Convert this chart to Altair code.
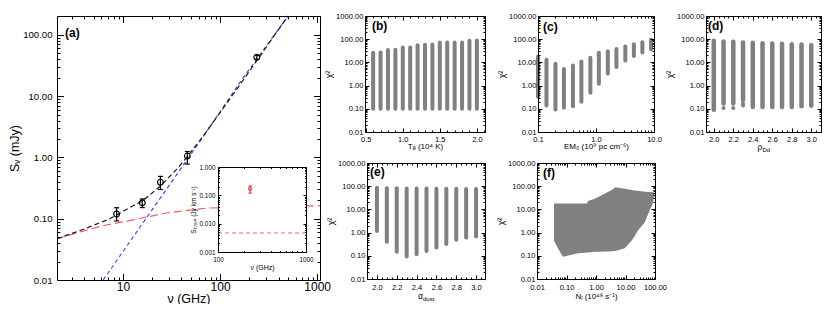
import math
import altair as alt
import pandas as pd

W, H = 814, 296
FONT = "Liberation Sans"
GRAY = "#808080"

# ---------------- data ----------------
# panel (a): SED
obs_nu = [8.6, 15.8, 24.3, 46.0, 239.0]
obs_S = [0.119, 0.182, 0.395, 1.05, 43.0]
obs_lo = [0.092, 0.152, 0.30, 0.78, 40.0]
obs_hi = [0.151, 0.21, 0.49, 1.25, 46.0]
total_nu = [2.09, 4.0, 7.35, 12.0, 16.2, 24.0, 35.7, 45.4, 70.0, 100.0, 160.0, 250.0, 500.0]
total_S = [0.047, 0.068, 0.10, 0.155, 0.20, 0.335, 0.64, 1.0, 2.45, 5.4, 15.3, 42.0, 203.0]
dust_nu = [6.25, 20.0, 60.0, 167.5, 502.0]
dust_S = [0.01, 0.141, 1.69, 18.5, 203.0]
ff_nu = [2.09, 3.5, 5.8, 12.8, 28.0, 72.7, 200.0, 417.0, 1070.0]
ff_S = [0.047, 0.060, 0.075, 0.096, 0.124, 0.149, 0.156, 0.159, 0.163]
# inset
h30_nu = [232.0]
h30_S = [0.17]
h30_lo = [0.12]
h30_hi = [0.215]
lim_nu = [100.0, 1000.0]
lim_S = [0.0047, 0.0047]
# panel (b)
te_x = [0.6, 0.7, 0.8, 0.9, 1.0, 1.1, 1.2, 1.3, 1.4, 1.5, 1.6, 1.7, 1.8, 1.9, 2.0]
te_top = [26, 27, 34, 35, 44, 44, 55, 57, 59, 72, 72, 72, 72, 85, 87]
te_bot = [0.10, 0.10, 0.10, 0.10, 0.10, 0.10, 0.10, 0.10, 0.10, 0.10, 0.10, 0.10, 0.10, 0.10, 0.10]
# panel (c)
em_x = [0.10, 0.14, 0.20, 0.28, 0.40, 0.56, 0.80, 1.12, 1.60, 2.25, 3.2, 4.5, 6.3, 8.9]
em_top = [18, 13, 8.8, 5.2, 7.4, 11, 16, 26, 30, 38, 49, 61, 74, 94]
em_bot = [0.33, 0.14, 0.094, 0.11, 0.13, 0.20, 0.49, 1.2, 3.3, 6.3, 12, 19, 27, 37]
# panel (d)
rho_x = [2.0, 2.1, 2.2, 2.3, 2.4, 2.5, 2.6, 2.7, 2.8, 2.9, 3.0]
rho_top = [85, 80, 77, 72, 70, 67, 65, 63, 61, 59, 55]
rho_bot = [0.09, 0.17, 0.17, 0.24, 0.12, 0.12, 0.12, 0.12, 0.12, 0.13, 0.135]
rho_dot_x = [2.1, 2.2, 2.3, 2.3]
rho_dot_y = [0.107, 0.107, 0.14, 0.165]
# panel (e)
ad_x = [2.0, 2.1, 2.2, 2.3, 2.4, 2.5, 2.6, 2.7, 2.8, 2.9, 3.0]
ad_top = [85, 82, 82, 80, 80, 80, 78, 78, 78, 76, 76]
ad_bot = [1.18, 0.40, 0.15, 0.093, 0.117, 0.16, 0.23, 0.32, 0.49, 0.61, 0.68]
# panel (f)
ni_x = [0.0377, 0.0515, 0.076, 0.245, 0.50, 0.536, 0.90, 1.33, 2.24, 3.3, 4.5, 9.4, 16.0, 20.4, 26.0, 44.6, 61.0, 85.0, 95.0]
ni_top = [18, 18, 18, 18, 18, 22.8, 28.7, 37, 52, 67, 90, 77, 69, 65, 63, 57, 56, 55, 53]
ni_bot = [0.44, 0.206, 0.09, 0.13, 0.14, 0.14, 0.15, 0.15, 0.155, 0.158, 0.16, 0.21, 0.44, 0.7, 1.2, 2.7, 7.2, 19, 38]

# tick labels
a_x_major = [10, 100, 1000]
a_y_major = [0.01, 0.1, 1, 10, 100]
in_x_major = [100, 1000]
in_y_major = [0.001, 0.01, 0.1, 1]
chi_major = [0.01, 0.1, 1, 10, 100, 1000]
b_x_major = [0.5, 1.0, 1.5, 2.0]
c_x_major = [0.1, 1.0, 10.0]
de_x_major = [2.0, 2.2, 2.4, 2.6, 2.8, 3.0]
f_x_major = [0.01, 0.1, 1, 10, 100]


# ---------------- helpers ----------------
def log_ticks(lo, hi):
    out = []
    e = math.floor(math.log10(lo))
    while 10 ** e <= hi * 1.0001:
        for m in range(1, 10):
            v = round(m * 10 ** e, 10)
            if lo * 0.9999 <= v <= hi * 1.0001:
                out.append(v)
        e += 1
    return out


def lin_ticks(lo, hi, step):
    k0 = int(math.ceil(lo / step - 1e-9))
    k1 = int(math.floor(hi / step + 1e-9))
    return [round(k * step, 6) for k in range(k0, k1 + 1)]


LOGTEST = "abs(log(datum.value)/LN10 - round(log(datum.value)/LN10)) < 0.01"


def lintest(step):
    return f"abs(datum.value/{step} - round(datum.value/{step})) < 0.01"


def scales(p):
    xkw = dict(type=p["xtype"], domain=p["xdom"], range=[p["X0"], p["X1"]], nice=False)
    ykw = dict(type=p["ytype"], domain=p["ydom"], range=[p["Y1"], p["Y0"]], nice=False)
    if p["xtype"] == "linear":
        xkw["zero"] = False
    if p["ytype"] == "linear":
        ykw["zero"] = False
    return alt.Scale(**xkw), alt.Scale(**ykw)


def label_channels(p, xs, ys):
    common = dict(ticks=False, tickSize=0, domain=True, domainColor="black", domainWidth=1,
                  labelFont=FONT, labelColor="black", labelFlush=False, labelOverlap=False,
                  grid=False, zindex=1, titleFont=FONT, titleFontWeight="normal", titleColor="black")
    xa = alt.Axis(orient="bottom", offset=p["Y1"] - H, values=p["xmaj"], format=p["xfmt"],
                  labelFontSize=p["xls"], labelPadding=p["xlp"], titleFontSize=p["xts"],
                  titlePadding=p["xtp"], title=p["xtitle"], **common)
    ya = alt.Axis(orient="left", offset=-p["X0"], values=p["ymaj"], format=p["yfmt"],
                  labelFontSize=p["yls"], labelPadding=p["ylp"], titleFontSize=p["yts"],
                  titlePadding=p["ytp"], title=p["ytitle"], **common)
    return alt.X("x:Q", scale=xs, axis=xa), alt.Y("y:Q", scale=ys, axis=ya)


def tick_layers(p, xs, ys):
    d = pd.DataFrame({"x": [p["xdom"][0]], "y": [p["ydom"][0]]})

    def ax(orient, offset, values, test, domain):
        return alt.Axis(orient=orient, offset=offset, values=values, labels=False, ticks=True,
                        tickSize={"condition": {"test": test, "value": p["big"]}, "value": p["small"]},
                        tickColor="black", tickWidth=1, domain=domain, domainColor="black",
                        domainWidth=1, title=None, grid=False, zindex=1)

    tA = alt.Chart(d).mark_point(opacity=0).encode(
        x=alt.X("x:Q", scale=xs, axis=ax("top", -p["Y1"], p["xall"], p["xtest"], False)),
        y=alt.Y("y:Q", scale=ys, axis=ax("right", p["X0"] - W, p["yall"], p["ytest"], False)),
    )
    tB = alt.Chart(d).mark_point(opacity=0).encode(
        x=alt.X("x:Q", scale=xs, axis=ax("bottom", p["Y0"] - H, p["xall"], p["xtest"], True)),
        y=alt.Y("y:Q", scale=ys, axis=ax("left", -p["X1"], p["yall"], p["ytest"], True)),
    )
    return [tA, tB]


def build(p, make_data):
    xs, ys = scales(p)
    X, Y = label_channels(p, xs, ys)
    data = alt.layer(*make_data(X, Y))
    return [data] + tick_layers(p, xs, ys)


def bars(xv, top, bot, X, Y, w=4.0):
    df = pd.DataFrame({"x": xv, "y": bot, "y2": top})
    return alt.Chart(df).mark_rule(color=GRAY, strokeWidth=w, strokeCap="round").encode(
        x=X, y=Y, y2=alt.Y2("y2"))


# ---------------- panels ----------------
def small(X0, X1, Y0, Y1, xtype, xdom, xmaj, xfmt, xtitle, xall, xtest, bottom_row):
    return dict(X0=X0, X1=X1, Y0=Y0, Y1=Y1, xtype=xtype, xdom=xdom, ytype="log",
                ydom=[0.01, 1000], xmaj=xmaj, ymaj=chi_major, xfmt=xfmt, yfmt=".2f",
                xtitle=xtitle, ytitle="χ²", xls=7.5, yls=7.6,
                xlp=4 if bottom_row else 3, ylp=2, xts=8, yts=9,
                xtp=1.5 if bottom_row else 0, ytp=2, xall=xall,
                yall=log_ticks(0.01, 1000), xtest=xtest, ytest=LOGTEST, big=4, small=2)


PA = dict(X0=49, X1=312, Y0=8, Y1=272, xtype="log", xdom=[2.09, 1070], ytype="log",
          ydom=[0.01, 203], xmaj=a_x_major, ymaj=a_y_major, xfmt="d", yfmt=".2f",
          xtitle="ν (GHz)", ytitle="Sᵥ (mJy)", xls=12, yls=9.6, xlp=1, ylp=5, xts=12.5,
          yts=12.5, xtp=0, ytp=1, xall=log_ticks(2.09, 1070), yall=log_ticks(0.01, 203),
          xtest=LOGTEST, ytest=LOGTEST, big=6.5, small=3)
PI = dict(X0=210, X1=298, Y0=159, Y1=244, xtype="log", xdom=[100, 1000], ytype="log",
          ydom=[0.001, 1], xmaj=in_x_major, ymaj=in_y_major, xfmt="d", yfmt=".3f",
          xtitle="ν (GHz)", ytitle="Sₕ₃₀ₐ (Jy km s⁻¹)", xls=6.4, yls=6.4, xlp=4, ylp=3,
          xts=7, yts=6.5, xtp=1, ytp=3, xall=log_ticks(100, 1000), yall=log_ticks(0.001, 1),
          xtest=LOGTEST, ytest=LOGTEST, big=3, small=1.5)
PB = small(357, 477, 8, 124, "linear", [0.49, 2.11], b_x_major, ".1f", "Tₑ (10⁴ K)",
           lin_ticks(0.49, 2.11, 0.1), lintest(0.5), False)
PC = small(530, 646, 8, 124, "log", [0.1, 10], c_x_major, ".1f", "EM₀ (10⁹ pc cm⁻⁶)",
           log_ticks(0.1, 10), LOGTEST, False)
PD = small(698, 813, 8, 124, "linear", [1.92, 3.10], de_x_major, ".1f", None,
           lin_ticks(1.92, 3.10, 0.05), lintest(0.2), False)
PE = small(359, 477, 155, 271, "linear", [1.90, 3.09], de_x_major, ".1f", None,
           lin_ticks(1.90, 3.09, 0.05), lintest(0.2), True)
PF = small(529, 647, 155, 271, "log", [0.01, 100], f_x_major, ".2f", "Ṅᵢ (10⁴⁸ s⁻¹)",
           log_ticks(0.01, 100), LOGTEST, True)


def data_a(X, Y):
    line = lambda xv, yv, color, dash: alt.Chart(pd.DataFrame({"x": xv, "y": yv})).mark_line(
        color=color, strokeDash=dash, strokeWidth=1.2).encode(x=X, y=Y)
    err = alt.Chart(pd.DataFrame({"x": obs_nu, "y": obs_lo, "y2": obs_hi})).mark_rule(
        color="black", strokeWidth=1.2).encode(x=X, y=Y, y2=alt.Y2("y2"))
    caps = alt.Chart(pd.DataFrame({"x": obs_nu + obs_nu, "y": obs_lo + obs_hi})).mark_point(
        shape="stroke", size=25, color="black", strokeWidth=1.2, opacity=1).encode(x=X, y=Y)
    pts = alt.Chart(pd.DataFrame({"x": obs_nu, "y": obs_S})).mark_point(
        shape="circle", filled=False, size=34, color="black", strokeWidth=1.2, opacity=1).encode(x=X, y=Y)
    return [line(ff_nu, ff_S, "#f06060", [8, 4]),
            line(dust_nu, dust_S, "#4646e6", [4, 3]),
            line(total_nu, total_S, "#1a1a1a", [5, 3]),
            err, caps, pts]


def data_inset(X, Y):
    bg = alt.Chart(pd.DataFrame({"x": [lim_nu[0]], "x2": [lim_nu[1]], "y": [0.001], "y2": [1.0]})).mark_rect(
        color="white", opacity=1).encode(x=X, x2=alt.X2("x2"), y=Y, y2=alt.Y2("y2"))
    lim = alt.Chart(pd.DataFrame({"x": lim_nu, "y": lim_S})).mark_line(
        color="#f07070", strokeDash=[4, 3], strokeWidth=1).encode(x=X, y=Y)
    err = alt.Chart(pd.DataFrame({"x": h30_nu, "y": h30_lo, "y2": h30_hi})).mark_rule(
        color="#e83030", strokeWidth=1).encode(x=X, y=Y, y2=alt.Y2("y2"))
    caps = alt.Chart(pd.DataFrame({"x": h30_nu + h30_nu, "y": h30_lo + h30_hi})).mark_point(
        shape="stroke", size=12, color="#e83030", strokeWidth=1, opacity=1).encode(x=X, y=Y)
    pt = alt.Chart(pd.DataFrame({"x": h30_nu, "y": h30_S})).mark_point(
        shape="circle", filled=False, size=12, color="#e83030", strokeWidth=1, opacity=1).encode(x=X, y=Y)
    return [bg, lim, err, caps, pt]


def data_d(X, Y):
    dots = alt.Chart(pd.DataFrame({"x": rho_dot_x, "y": rho_dot_y})).mark_point(
        shape="circle", filled=True, size=16, color=GRAY, opacity=1).encode(x=X, y=Y)
    return [bars(rho_x, rho_top, rho_bot, X, Y, 4.5), dots]


def data_f(X, Y):
    df = pd.DataFrame({"x": ni_x, "y": ni_bot, "y2": ni_top})
    return [alt.Chart(df).mark_area(color=GRAY, opacity=1).encode(x=X, y=Y, y2=alt.Y2("y2"))]


groups = []
groups += build(PA, data_a)
groups += build(PI, data_inset)
groups += build(PB, lambda X, Y: [bars(te_x, te_top, te_bot, X, Y)])
groups += build(PC, lambda X, Y: [bars(em_x, em_top, em_bot, X, Y)])
groups += build(PD, data_d)
groups += build(PE, lambda X, Y: [bars(ad_x, ad_top, ad_bot, X, Y)])
groups += build(PF, data_f)


def text(t, x, y, size, weight="normal", align="left"):
    return alt.Chart(pd.DataFrame({"t": [t]})).mark_text(
        align=align, baseline="middle", font=FONT, fontSize=size, fontWeight=weight,
        color="black").encode(x=alt.value(x), y=alt.value(y), text="t:N")


texts = [
    text("(a)", 57, 24.5, 12, "bold"),
    text("(b)", 364, 18, 12, "bold"),
    text("(c)", 535, 18.5, 12, "bold"),
    text("(d)", 700, 18, 12, "bold"),
    text("(e)", 362, 163.5, 12, "bold"),
    text("(f)", 535, 164.5, 12, "bold"),
    # subscripted axis titles of (d) and (e)
    text("ρ", (PD["X0"] + PD["X1"]) / 2 - 6, 139, 8.5),
    text("Dd", (PD["X0"] + PD["X1"]) / 2 - 1, 141.5, 6),
    text("α", (PE["X0"] + PE["X1"]) / 2 - 8, 288, 8.5),
    text("dust", (PE["X0"] + PE["X1"]) / 2 - 3, 290.5, 6),
]

chart = alt.layer(*groups, *texts).resolve_scale(
    x="independent", y="independent"
).properties(
    width=W, height=H, padding=0, autosize=alt.AutoSizeParams(type="none")
).configure_view(strokeOpacity=0)

chart.save("out.html", embed_options={"renderer": "svg", "actions": False})
